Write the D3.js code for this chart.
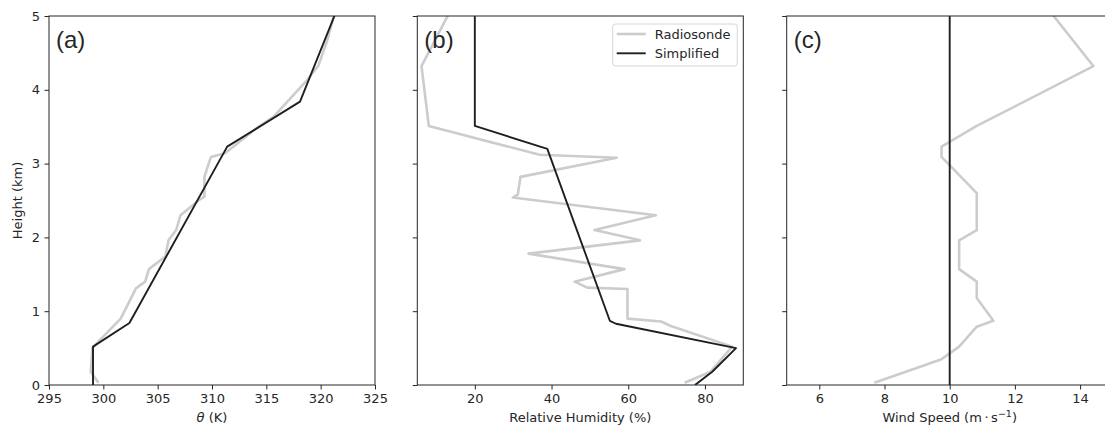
<!DOCTYPE html>
<html><head><meta charset="utf-8">
<script src="https://cdn.jsdelivr.net/npm/d3@7"></script>
<style>
html,body{margin:0;padding:0;background:#fff;overflow:hidden;}
text{font-family:"DejaVu Sans",sans-serif;fill:#262626;}
</style></head>
<body>
<svg id="chart" width="1120" height="426"></svg>
<script>
// ---------------- data ----------------
const heightTicks = [0,1,2,3,4,5];
const thetaTicks = [295,300,305,310,315,320,325];
const rhTicks = [20,40,60,80];
const windTicks = [6,8,10,12,14];

// (a) potential temperature
const thetaRadioH = [0.03,0.18,0.50,0.61,0.90,1.31,1.40,1.57,1.74,1.96,2.10,2.30,2.51,2.55,2.82,3.09,3.14,3.48,3.64,4.13,4.33,4.67,5.05];
const thetaRadio  = [299.55,298.84,299.0,299.7,301.6,303.0,303.85,304.2,305.7,306.0,306.7,307.1,308.85,309.3,309.3,309.9,311.2,314.1,315.7,318.75,319.8,320.6,321.3];
const thetaSimpH  = [0.0,0.52,0.84,3.23,3.84,5.05];
const thetaSimp   = [299.05,299.05,302.4,311.4,318.1,321.4];

// (b) relative humidity
const rhRadioH = [0.03,0.18,0.52,0.80,0.86,0.90,1.30,1.32,1.40,1.57,1.78,1.96,2.10,2.30,2.54,2.58,2.82,3.08,3.12,3.51,4.32,5.05];
const rhRadio  = [74.7,81.5,87.1,71.1,68.6,59.8,59.8,49.3,46.0,59.0,34.0,63.1,51.2,67.2,29.9,31.2,31.9,57.0,36.9,8.0,6.1,13.4];
const rhSimpH  = [0.0,0.18,0.50,0.83,0.87,3.20,3.51,5.05];
const rhSimp   = [77.4,81.9,88.1,56.8,55.2,38.9,20.0,20.0];

// (c) wind speed
const windRadioH = [0.03,0.35,0.52,0.79,0.87,1.18,1.40,1.57,1.96,2.10,2.60,3.09,3.23,3.51,4.32,5.05];
const windRadio  = [7.69,9.75,10.29,10.83,11.34,10.83,10.83,10.29,10.29,10.83,10.83,9.75,9.75,10.83,14.41,13.1];
const windSimpH  = [0.0,5.05];
const windSimp   = [10.0,10.0];

const seriesNames = ["Radiosonde","Simplified"];
const panelLabels = ["(a)","(b)","(c)"];

// ---------------- layout ----------------
const svg = d3.select("#chart");
const plotTop = 16, plotBottom = 385, pw = 326;
const lefts = [49, 417.3, 786.7];
const gray = "#cccccc", dark = "#1f1f1f";
const fs = "13px";

const y = d3.scaleLinear().domain([0,5]).range([plotBottom, plotTop]);

const panels = [
  {dom:[295,325], ticks:thetaTicks, radio:[thetaRadio,thetaRadioH], simp:[thetaSimp,thetaSimpH], label:"theta"},
  {dom:[5,90], ticks:rhTicks, radio:[rhRadio,rhRadioH], simp:[rhSimp,rhSimpH], label:"Relative Humidity (%)"},
  {dom:[5,15], ticks:windTicks, radio:[windRadio,windRadioH], simp:[windSimp,windSimpH], label:"wind"}
];

const defs = svg.append("defs");

panels.forEach((p,i)=>{
  const x0 = lefts[i];
  const x = d3.scaleLinear().domain(p.dom).range([x0, x0+pw]);
  const g = svg.append("g");

  defs.append("clipPath").attr("id","clip"+i)
    .append("rect").attr("x",x0).attr("y",plotTop).attr("width",pw).attr("height",plotBottom-plotTop);

  const line = d3.line().x(d=>x(d[0])).y(d=>y(d[1]));
  const radioPts = p.radio[0].map((v,k)=>[v,p.radio[1][k]]);
  const simpPts = p.simp[0].map((v,k)=>[v,p.simp[1][k]]);

  const lg = g.append("g").attr("clip-path","url(#clip"+i+")");
  lg.append("path").attr("d",line(radioPts)).attr("fill","none")
    .attr("stroke",gray).attr("stroke-width",2.6).attr("stroke-linejoin","round");
  lg.append("path").attr("d",line(simpPts)).attr("fill","none")
    .attr("stroke",dark).attr("stroke-width",1.9).attr("stroke-linejoin","round");

  // axes
  const xa = g.append("g").attr("transform",`translate(0,${plotBottom})`)
    .call(d3.axisBottom(x).tickValues(p.ticks).tickSize(4.5).tickPadding(4.5).tickFormat(d3.format("d")));
  const ya = g.append("g").attr("transform",`translate(${x0},0)`)
    .call(d3.axisLeft(y).tickValues(heightTicks).tickSize(4.5).tickPadding(4.5).tickFormat(i===0?d3.format("d"):""));
  [xa,ya].forEach(a=>{
    a.select(".domain").remove();
    a.selectAll("line").attr("stroke","#262626").attr("stroke-width",1);
    a.selectAll("text").style("font-size",fs).attr("fill","#262626");
  });

  // frame
  g.append("rect").attr("x",x0).attr("y",plotTop).attr("width",pw).attr("height",plotBottom-plotTop)
    .attr("fill","none").attr("stroke","#262626").attr("stroke-width",1);

  // panel label
  g.append("text").attr("x",x0+7).attr("y",plotTop+32)
    .style("font-family","'Liberation Sans',Arial,sans-serif").style("font-size","24px")
    .text(panelLabels[i]);

  // x axis label
  const cx = x0+pw/2;
  const t = g.append("text").attr("x",cx).attr("y",421.5).attr("text-anchor","middle").style("font-size",fs);
  if(p.label==="theta"){
    t.append("tspan").style("font-style","italic").text("θ");
    t.append("tspan").text(" (K)");
  } else if(p.label==="wind"){
    t.append("tspan").text("Wind Speed (m\u2009·\u2009s");
    t.append("tspan").attr("dy",-5).style("font-size","9.5px").text("−1");
    t.append("tspan").attr("dy",5).text(")");
  } else {
    t.text(p.label);
  }

  // legend
  if(i===1){
    const lx = 612.7, ly = 24;
    g.append("rect").attr("x",lx).attr("y",ly).attr("width",124.6).attr("height",42)
      .attr("rx",3).attr("fill","#fff").attr("fill-opacity",0.8).attr("stroke","#d6d6d6").attr("stroke-width",1);
    [[gray,2.6],[dark,1.9]].forEach((s,k)=>{
      const yy = ly+10+k*19.3;
      g.append("line").attr("x1",lx+4).attr("x2",lx+33).attr("y1",yy).attr("y2",yy)
        .attr("stroke",s[0]).attr("stroke-width",s[1]);
      g.append("text").attr("x",lx+42).attr("y",yy+4.5).style("font-size",fs).text(seriesNames[k]);
    });
  }
});

// y axis label
svg.append("text").attr("transform",`translate(22,${(plotTop+plotBottom)/2}) rotate(-90)`)
  .attr("text-anchor","middle").style("font-size",fs).text("Height (km)");
</script>
</body></html>
